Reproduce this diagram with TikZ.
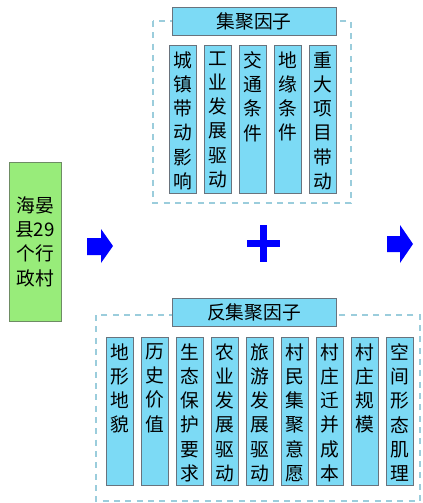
\documentclass[tikz,border=0pt]{standalone}
\usepackage{fontspec}
\newfontfamily\cjk{Noto Sans CJK SC}
\definecolor{colfill}{RGB}{124,218,245}
\definecolor{boxgray}{RGB}{105,115,125}
\definecolor{villgreen}{RGB}{152,236,122}
\definecolor{villedge}{RGB}{110,140,100}
\definecolor{dashblue}{RGB}{155,205,220}
\newcommand\vtext[1]{\parbox[c][4.08cm][t]{0.78cm}{\centering #1}}
\begin{document}
\begin{tikzpicture}[x=0.03cm,y=-0.03cm,font=\cjk\fontsize{16}{20.7}\selectfont,
 grp/.style={draw=dashblue,line width=.9pt,dash pattern=on 0.18cm off 0.16cm},
 head/.style={draw=boxgray,fill=colfill,line width=.8pt,minimum width=4.92cm,minimum height=0.84cm,inner sep=0pt},
 col/.style={draw=boxgray,fill=colfill,line width=.8pt,anchor=north,inner xsep=0pt,inner ysep=0.18cm,minimum width=0.81cm},
 vill/.style={draw=villedge,fill=villgreen,line width=.8pt,minimum width=1.56cm,minimum height=4.77cm,align=center,font=\cjk\fontsize{16}{20.8}\selectfont}]
 \useasboundingbox (0,0) rectangle (423,503);
 % village box
 \node[vill] (vill) at (35,241.5) {海晏\\县29\\个行\\政村};
 % agglomeration factors
 \draw[grp] (153,21) rectangle (351,203);
 \node[head] (aggl) at (254,21) {集聚因子};
 \foreach \t [count=\i from 0] in {{城\\镇\\带\\动\\影\\响},{工\\业\\发\\展\\驱\\动},{交\\通\\条\\件},{地\\缘\\条\\件},{重\\大\\项\\目\\带\\动}}
  \node[col] (up\i) at (182.5+35*\i,45) {\vtext{\t}};
 % anti-agglomeration factors
 \draw[grp] (96,315) rectangle (420,501);
 \node[head] (anti) at (254,312.5) {反集聚因子};
 \foreach \t [count=\i from 0] in {{地\\形\\地\\貌},{历\\史\\价\\值},{生\\态\\保\\护\\要\\求},{农\\业\\发\\展\\驱\\动},{旅\\游\\发\\展\\驱\\动},{村\\民\\集\\聚\\意\\愿},{村\\庄\\迁\\并\\成\\本},{村\\庄\\规\\模},{空\\间\\形\\态\\肌\\理}}
  \node[col] (dn\i) at (119.5+35*\i,337) {\vtext{\t}};
 % arrows and plus
 \fill[blue] (87,238)--(101,238)--(101,229)--(113,246)--(101,263)--(101,255)--(87,255)--cycle;
 \fill[blue] (387,236)--(400,236)--(400,225)--(413,244)--(400,263)--(400,252)--(387,252)--cycle;
 \draw[blue,line width=0.2cm] (247,243.5)--(280,243.5) (263.5,225)--(263.5,262);
\end{tikzpicture}
\end{document}
